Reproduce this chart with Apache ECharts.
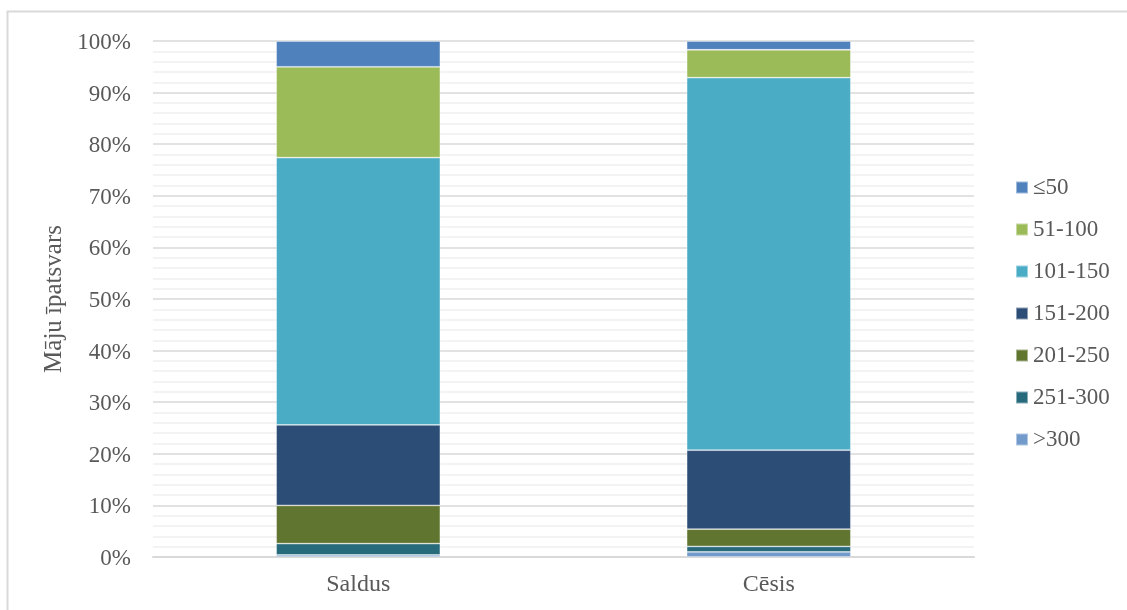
<!DOCTYPE html>
<html>
<head>
<meta charset="utf-8">
<style>
  html, body { margin: 0; padding: 0; background: #fff; }
  #chart { width: 1127px; height: 610px; }
</style>
<script src="https://cdn.jsdelivr.net/npm/echarts@6/dist/echarts.min.js"></script>
</head>
<body>
<div id="chart"></div>
<script>
// House size groups (m²) and their share per town, in percent
const categories = ['Saldus', 'Cēsis'];
const groups = ['≤50', '51-100', '101-150', '151-200', '201-250', '251-300', '>300'];
const share_le50    = [5.0, 1.7];
const share_51_100  = [17.6, 5.4];
const share_101_150 = [51.8, 72.2];
const share_151_200 = [15.6, 15.3];
const share_201_250 = [7.4, 3.35];
const share_251_300 = [2.2, 1.05];
const share_gt300   = [0.4, 1.0];
const yTicks = [0, 10, 20, 30, 40, 50, 60, 70, 80, 90, 100];

const groupValues = [share_le50, share_51_100, share_101_150, share_151_200,
                     share_201_250, share_251_300, share_gt300];
const groupColors = ['#4F81BD', '#9BBB59', '#4BACC6', '#2C4D75',
                     '#5F7530', '#276A7C', '#729ACA'];

const FONT = '"Liberation Serif", "Times New Roman", serif';
const TEXT = '#595959';

// Stack from the largest size group at the bottom up to ≤50 at the top
const series = [];
for (let i = groups.length - 1; i >= 0; i--) {
  series.push({
    name: groups[i],
    type: 'bar',
    stack: 'total',
    barWidth: '40%',
    data: groupValues[i],
    itemStyle: {
      color: groupColors[i],
      borderColor: 'rgba(255,255,255,0.45)',
      borderWidth: 0.8
    }
  });
}

const chart = echarts.init(document.getElementById('chart'));
chart.setOption({
  animation: false,
  backgroundColor: '#fff',
  textStyle: { fontFamily: FONT },
  graphic: [{
    type: 'rect',
    shape: { x: 7.5, y: 11.5, width: 1130, height: 620 },
    style: { fill: 'none', stroke: '#D9D9D9', lineWidth: 2 },
    silent: true,
    z: -10
  }],
  grid: { left: 153, right: 153, top: 41, bottom: 53 },
  legend: {
    orient: 'vertical',
    left: 1010,
    top: 171,
    itemWidth: 12,
    itemHeight: 12,
    itemGap: 19,
    icon: 'rect',
    data: groups,
    textStyle: { fontFamily: FONT, fontSize: 23, color: TEXT }
  },
  xAxis: {
    type: 'category',
    data: categories,
    axisTick: { show: false },
    axisLine: { lineStyle: { color: '#D9D9D9', width: 2 } },
    axisLabel: { fontFamily: FONT, fontSize: 24, color: TEXT, margin: 16 }
  },
  yAxis: {
    type: 'value',
    min: yTicks[0],
    max: yTicks[yTicks.length - 1],
    interval: 10,
    name: 'Māju īpatsvars',
    nameLocation: 'middle',
    nameGap: 82,
    nameTextStyle: { fontFamily: FONT, fontSize: 25, color: TEXT },
    axisLine: { show: false },
    axisTick: { show: false },
    axisLabel: {
      color: TEXT, margin: 22,
      formatter: v => '{t|' + v + '%}',
      rich: {
        t: { fontFamily: FONT, fontSize: 23, color: TEXT, padding: [4, 0, 0, 0] }
      }
    },
    splitLine: { lineStyle: { color: '#D9D9D9', width: 1.5 } },
    minorTick: { show: false, splitNumber: 5 },
    minorSplitLine: { show: true, lineStyle: { color: '#EFEFEF', width: 1.5 } }
  },
  series: series
});
</script>
</body>
</html>
